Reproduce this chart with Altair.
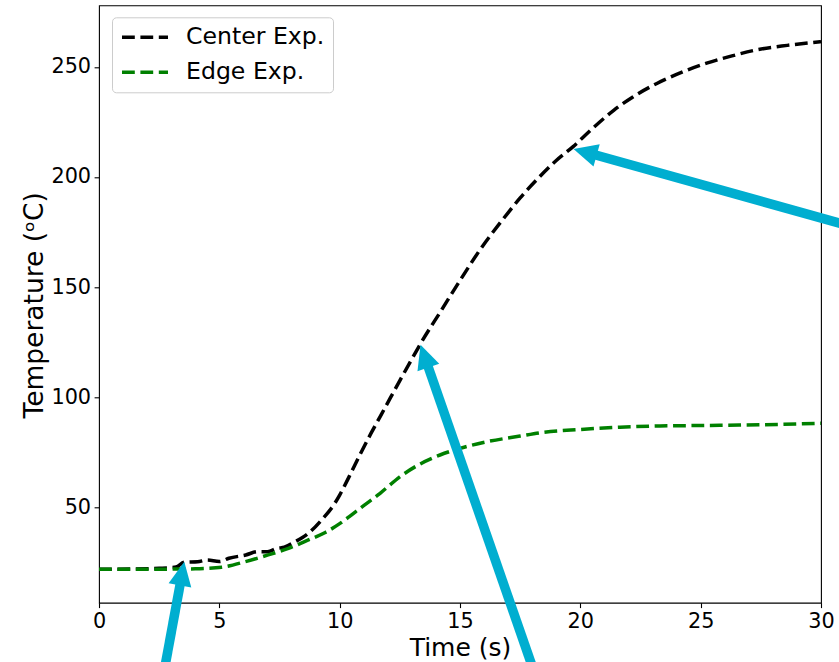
import altair as alt
import pandas as pd

# ---- data ----
series_names = ["Center Exp.", "Edge Exp."]
series_colors = ["#000000", "#008000"]

center_t = [0, 1.5, 2.5, 3.2, 3.55, 4.1, 4.5, 5.0, 5.4, 6.1, 6.6, 7.0, 7.4, 7.7, 8.1,
            8.7, 9.25, 9.8, 10.0, 10.4, 10.85, 11.3, 11.7, 12.1, 12.5, 13.0, 13.4,
            14.2, 15.0, 15.9, 16.8, 17.5, 18.3, 19.0, 19.7, 20.5, 21.4, 22.2, 23.2,
            24.2, 25.25, 26.3, 27.3, 28.6, 30.0]
center_temp = [21.8, 21.9, 22.2, 22.8, 25.0, 25.2, 26.0, 25.3, 26.8, 28.3, 29.8, 29.8,
               31.3, 31.8, 34.0, 38.1, 44.2, 51.8, 55.5, 64.0, 74.0, 83.5, 91.5, 99.5,
               107.5, 117.3, 125.0, 139.0, 153.0, 168.0, 181.0, 190.5, 200.0, 207.5,
               213.8, 222.0, 230.4, 236.5, 242.6, 247.5, 251.7, 255.0, 257.7, 259.8, 261.5]

edge_t = [0, 2, 4, 5.1, 6.07, 7.03, 7.87, 8.7, 9.4, 10.0, 10.4, 10.85, 11.68, 12.5,
          13.34, 14.17, 15.0, 16.1, 17.5, 18.32, 19.98, 21.65, 23.3, 25.0, 26.6, 28.3, 30.0]
edge_temp = [21.8, 21.8, 22.0, 22.7, 25.2, 28.3, 31.3, 35.1, 38.5, 42.5, 45.7, 49.5,
             56.3, 63.8, 69.6, 73.7, 76.7, 79.7, 82.3, 83.8, 85.3, 86.3, 86.9, 87.1,
             87.3, 87.6, 88.1]

x_ticks = [0, 5, 10, 15, 20, 25, 30]
y_ticks = [50, 100, 150, 200, 250]

# annotation arrows (data units): tip, neck (head base), tail, direction angle
arrow_tip_t = [3.544, 13.359, 19.716]
arrow_tip_temp = [25.21, 123.80, 212.77]
arrow_neck_t = [3.378, 13.658, 20.597]
arrow_neck_temp = [15.41, 114.36, 210.10]
arrow_tail_t = [1.288, 20.173, 39.72]
arrow_tail_temp = [-108.65, -90.68, 151.7]
arrow_angle = [10.4, 340.9, 285.6]

ARROW_COLOR = "#00aed0"
FONT = "DejaVu Sans"

lines_df = pd.DataFrame(
    {"t": center_t + edge_t,
     "temp": center_temp + edge_temp,
     "series": [series_names[0]] * len(center_t) + [series_names[1]] * len(edge_t)}
)
arrows_df = pd.DataFrame(
    {"tip_t": arrow_tip_t, "tip_temp": arrow_tip_temp,
     "neck_t": arrow_neck_t, "neck_temp": arrow_neck_temp,
     "tail_t": arrow_tail_t, "tail_temp": arrow_tail_temp,
     "angle": arrow_angle}
)

x_scale = alt.Scale(domain=[0, 30], nice=False, zero=False)
y_scale = alt.Scale(domain=[6.6, 278.0], nice=False, zero=False)

lines = alt.Chart(lines_df).mark_line(
    strokeWidth=3.5, strokeDash=[12.8, 5.6], interpolate="monotone"
).encode(
    x=alt.X("t:Q", scale=x_scale,
            axis=alt.Axis(values=x_ticks, title="Time (s)", labelFlush=False,
                          labelPadding=4, titleY=52.3, titleBaseline="alphabetic")),
    y=alt.Y("temp:Q", scale=y_scale,
            axis=alt.Axis(values=y_ticks, title="Temperature (ᵒC)", labelPadding=3.5,
                          titleFontSize=26.5,
                          titleX=-57, titleY=299.5, titleAngle=270,
                          titleAlign="center", titleBaseline="alphabetic")),
    color=alt.Color(
        "series:N",
        scale=alt.Scale(domain=series_names, range=series_colors),
        legend=alt.Legend(
            title=None, orient="none", legendX=13, legendY=12,
            symbolType="M-1,0L3.6,0", symbolSize=400, symbolStrokeWidth=3.5,
            symbolDash=[12.8, 5.6], symbolOffset=0,
            labelFontSize=23.6, labelFont=FONT, labelColor="black",
            labelOffset=42, rowPadding=11, padding=8,
            strokeColor="#cccccc", fillColor="rgba(255,255,255,0.8)", cornerRadius=4,
        ),
    ),
)

shafts = alt.Chart(arrows_df).mark_rule(
    strokeWidth=9.5, color=ARROW_COLOR, clip=False, strokeCap="butt", opacity=1
).encode(
    x=alt.X("neck_t:Q", scale=x_scale),
    y=alt.Y("neck_temp:Q", scale=y_scale),
    x2="tail_t:Q",
    y2="tail_temp:Q",
)

heads = alt.Chart(arrows_df).mark_point(
    shape="M0,0L-0.96,2L0.96,2Z", size=576, filled=True, fill=ARROW_COLOR,
    strokeWidth=0, opacity=1, clip=False
).encode(
    x=alt.X("tip_t:Q", scale=x_scale),
    y=alt.Y("tip_temp:Q", scale=y_scale),
    angle=alt.Angle("angle:Q", scale=None),
)

chart = alt.layer(lines, shafts, heads).properties(
    width=722, height=597.4,
    autosize=alt.AutoSizeParams(type="none"),
    padding={"left": 99, "top": 5.3, "right": 18, "bottom": 59.3},
).configure(font=FONT).configure_view(
    stroke="black", strokeWidth=1.1
).configure_axis(
    grid=False, domain=False, tickColor="black", tickWidth=1.1, tickSize=4.9,
    labelFont=FONT, labelFontSize=20.8, labelColor="black",
    titleFont=FONT, titleFontSize=25, titleFontWeight="normal", titleColor="black",
)

chart.save("out.html", embed_options={"renderer": "svg", "actions": False})
